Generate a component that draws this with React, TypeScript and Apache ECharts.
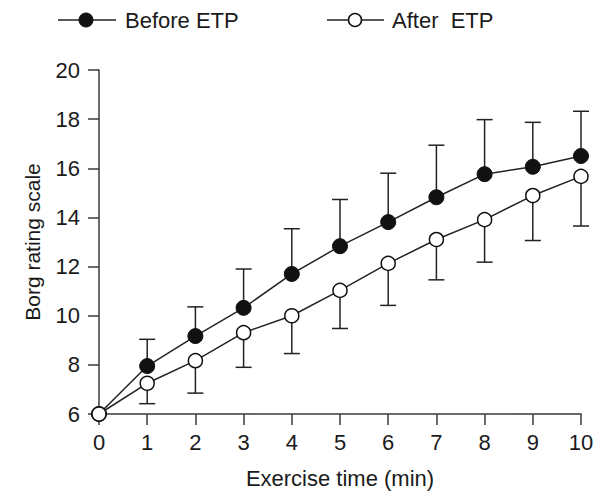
import React, { useEffect, useRef } from "react";
import * as echarts from "echarts";

const minutes = [0, 1, 2, 3, 4, 5, 6, 7, 8, 9, 10];
const beforeMean = [6, 7.95, 9.17, 10.32, 11.7, 12.83, 13.81, 14.82, 15.76, 16.06, 16.5];
const beforeUpper = [6, 9.04, 10.36, 11.9, 13.54, 14.73, 15.8, 16.94, 17.98, 17.87, 18.32];
const afterMean = [6, 7.25, 8.17, 9.31, 10.0, 11.03, 12.13, 13.1, 13.91, 14.89, 15.67];
const afterLower = [6, 6.42, 6.85, 7.9, 8.46, 9.48, 10.42, 11.46, 12.18, 13.06, 13.65];
const legendLabels = ["Before ETP", "After  ETP"];

const FONT = "'Liberation Sans', Arial, Helvetica, sans-serif";
const INK = "#1a1a1a";
const AXIS = "#3a3a3a";

export default function App() {
  const ref = useRef<HTMLDivElement>(null);
  useEffect(() => {
    if (!ref.current) return;
    const chart = echarts.init(ref.current, null, { renderer: "svg" });

    const errRender = (params: any, api: any) => {
      const x = api.value(0);
      const y = api.value(1);
      const e = api.value(2);
      if (x === 0) return null;
      const p0 = api.coord([x, y]);
      const p1 = api.coord([x, e]);
      const st = { stroke: "#222", lineWidth: 1.5 };
      return {
        type: "group",
        children: [
          { type: "line", shape: { x1: p0[0], y1: p0[1], x2: p1[0], y2: p1[1] }, style: st },
          { type: "line", shape: { x1: p1[0] - 8, y1: p1[1], x2: p1[0] + 8, y2: p1[1] }, style: st },
        ],
      };
    };

    const option: any = {
      animation: false,
      backgroundColor: "#fff",
      textStyle: { fontFamily: FONT },
      grid: { left: 99, right: 17, top: 70, bottom: 77, containLabel: false },
      xAxis: {
        type: "value",
        min: 0,
        max: 10,
        interval: 1,
        name: "Exercise time (min)",
        nameLocation: "middle",
        nameGap: 53,
        nameTextStyle: { fontSize: 22, color: INK, fontFamily: FONT },
        axisLine: { show: true, lineStyle: { color: AXIS, width: 1.5 } },
        axisTick: { show: true, length: 11, lineStyle: { color: AXIS, width: 1.5 } },
        axisLabel: { fontSize: 22, color: INK, margin: 17, fontFamily: FONT },
        splitLine: { show: false },
      },
      yAxis: {
        type: "value",
        min: 6,
        max: 20,
        interval: 2,
        name: "Borg rating scale",
        nameLocation: "middle",
        nameGap: 56,
        nameRotate: 90,
        nameTextStyle: { fontSize: 21, color: INK, fontFamily: FONT },
        axisLine: { show: true, lineStyle: { color: AXIS, width: 1.5 } },
        axisTick: { show: true, length: 11, lineStyle: { color: AXIS, width: 1.5 } },
        axisLabel: { fontSize: 22, color: INK, margin: 19, fontFamily: FONT },
        splitLine: { show: false },
      },
      graphic: [
        { type: "line", shape: { x1: 58, y1: 20, x2: 116, y2: 20 }, style: { stroke: "#222", lineWidth: 1.5 } },
        { type: "circle", shape: { cx: 86, cy: 20, r: 7 }, style: { fill: "#111", stroke: "#111", lineWidth: 1 } },
        { type: "text", x: 125, y: 20, style: { text: legendLabels[0], fontSize: 22, fill: INK, fontFamily: FONT, verticalAlign: "middle", align: "left" } },
        { type: "line", shape: { x1: 327, y1: 20, x2: 384, y2: 20 }, style: { stroke: "#222", lineWidth: 1.5 } },
        { type: "circle", shape: { cx: 355, cy: 20, r: 6.5 }, style: { fill: "#fff", stroke: "#111", lineWidth: 1.5 } },
        { type: "text", x: 392, y: 20, style: { text: legendLabels[1], fontSize: 22, fill: INK, fontFamily: FONT, verticalAlign: "middle", align: "left" } },
      ],
      series: [
        {
          type: "custom",
          name: "before-err",
          renderItem: errRender,
          data: minutes.map((m, i) => [m, beforeMean[i], beforeUpper[i]]),
          z: 1,
          clip: false,
        },
        {
          type: "custom",
          name: "after-err",
          renderItem: errRender,
          data: minutes.map((m, i) => [m, afterMean[i], afterLower[i]]),
          z: 1,
          clip: false,
        },
        {
          type: "line",
          name: legendLabels[0],
          data: minutes.map((m, i) => [m, beforeMean[i]]),
          symbol: "circle",
          symbolSize: 15,
          clip: false,
          lineStyle: { color: "#222", width: 1.5 },
          itemStyle: { color: "#111", borderColor: "#111", borderWidth: 1 },
          z: 3,
        },
        {
          type: "line",
          name: legendLabels[1],
          data: minutes.map((m, i) => [m, afterMean[i]]),
          symbol: "circle",
          symbolSize: 14,
          clip: false,
          lineStyle: { color: "#222", width: 1.5 },
          itemStyle: { color: "#fff", borderColor: "#111", borderWidth: 1.5 },
          z: 4,
        },
      ],
    };
    chart.setOption(option);
    return () => chart.dispose();
  }, []);
  return (
    <div
      ref={ref}
      style={{ position: "fixed", left: 0, top: 0, width: 598, height: 494, background: "#fff" }}
    />
  );
}
